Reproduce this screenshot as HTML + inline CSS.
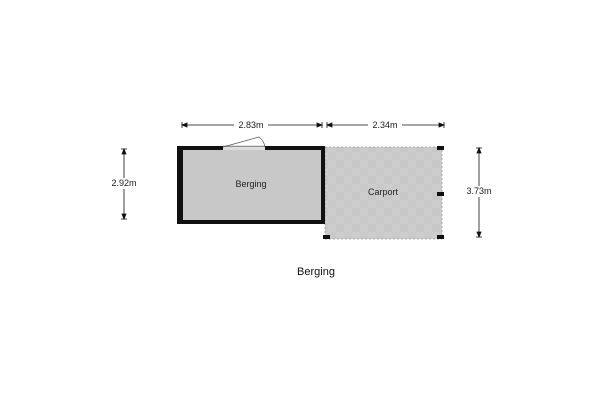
<!DOCTYPE html>
<html><head><style>
body{margin:0;background:#fff;}
svg text{font-family:"Liberation Sans",sans-serif;}
</style></head><body>
<svg width="600" height="400" viewBox="0 0 600 400" xmlns="http://www.w3.org/2000/svg">
<defs>
<pattern id="g" width="16" height="16" patternUnits="userSpaceOnUse">
<rect width="16" height="16" fill="#cdcdcd"/>
<rect width="8" height="8" fill="#c7c7c7"/>
<rect x="8" y="8" width="8" height="8" fill="#c9c9c9"/>
</pattern>
</defs>
<!-- carport -->
<rect x="325" y="147" width="117" height="92" fill="url(#g)" stroke="#999" stroke-width="0.8" stroke-dasharray="2,2"/>
<rect x="437" y="146" width="7" height="4" fill="#111"/>
<rect x="437" y="192" width="7" height="4" fill="#111"/>
<rect x="323" y="235" width="7" height="4" fill="#111"/>
<rect x="437" y="235" width="7" height="4" fill="#111"/>
<!-- berging -->
<rect x="179" y="148" width="144" height="74" fill="#c8c8c8" stroke="#111" stroke-width="4"/>
<rect x="177" y="146" width="6" height="78" fill="#111"/>
<!-- door -->
<rect x="223" y="145" width="42" height="5" fill="#ddd"/>
<line x1="223" y1="146.5" x2="265" y2="146.5" stroke="#777" stroke-width="0.8"/>
<path d="M223 147 L259 137 Q264 141 265 147" fill="none" stroke="#555" stroke-width="0.7"/>
<text x="251" y="187" font-size="9" text-anchor="middle" fill="#222">Berging</text>
<text x="383" y="195" font-size="9" text-anchor="middle" fill="#222">Carport</text>
<!-- dimensions -->
<g stroke="#111" stroke-width="0.8" fill="#111">
<line x1="182" y1="125" x2="322" y2="125"/>
<line x1="182" y1="122" x2="182" y2="128"/><line x1="322" y1="122" x2="322" y2="128"/>
<path d="M182 125 l5 -2 v4z"/><path d="M322 125 l-5 -2 v4z"/>
<line x1="327" y1="125" x2="444" y2="125"/>
<line x1="327" y1="122" x2="327" y2="128"/><line x1="444" y1="122" x2="444" y2="128"/>
<path d="M327 125 l5 -2 v4z"/><path d="M444 125 l-5 -2 v4z"/>
<line x1="124" y1="149" x2="124" y2="219"/>
<line x1="121" y1="149" x2="127" y2="149"/><line x1="121" y1="219" x2="127" y2="219"/>
<path d="M124 149 l-2 5 h4z"/><path d="M124 219 l-2 -5 h4z"/>
<line x1="479" y1="148" x2="479" y2="237"/>
<line x1="476" y1="148" x2="482" y2="148"/><line x1="476" y1="237" x2="482" y2="237"/>
<path d="M479 148 l-2 5 h4z"/><path d="M479 237 l-2 -5 h4z"/>
</g>
<g font-size="9" fill="#222" text-anchor="middle">
<rect x="234" y="119" width="34" height="11" fill="#fff"/>
<text x="251" y="128">2.83m</text>
<rect x="368" y="119" width="34" height="11" fill="#fff"/>
<text x="385" y="128">2.34m</text>
<rect x="106" y="178" width="36" height="11" fill="#fff"/>
<text x="124" y="186">2.92m</text>
<rect x="461" y="186" width="36" height="11" fill="#fff"/>
<text x="479" y="194">3.73m</text>
</g>
<text x="316" y="275" font-size="11" text-anchor="middle" fill="#111">Berging</text>
</svg>
</body></html>
